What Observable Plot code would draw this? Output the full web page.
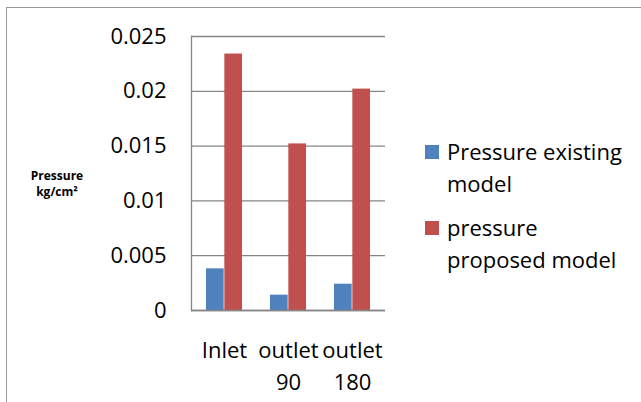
<!DOCTYPE html>
<html>
<head>
<meta charset="utf-8">
<script src="https://cdn.jsdelivr.net/npm/d3@7"></script>
<script src="https://cdn.jsdelivr.net/npm/@observablehq/plot@0.6"></script>
<style>
  html, body { margin: 0; padding: 0; background: #fff; overflow: hidden; }
  #wrap { position: relative; width: 641px; height: 402px; overflow: hidden; font-family: "Open Sans", sans-serif; color: #000; }
  #border { position: absolute; left: 6px; top: 7px; width: 700px; height: 450px; border: 1px solid #999; box-sizing: border-box; }
  #chart { position: absolute; left: 0; top: 0; }
  #ylabel { position: absolute; left: 7px; top: 168px; width: 100px; text-align: center; font-size: 12px; line-height: 16px; font-weight: bold; }
  #legend { position: absolute; left: 425px; top: 135px; font-size: 22px; line-height: 32px; }
  .item { position: relative; padding-left: 22px; margin-bottom: 12px; }
  .sw { position: absolute; left: 0; top: 10px; width: 14px; height: 14px; }
</style>
</head>
<body>
<div id="wrap">
  <div id="border"></div>
  <div id="chart"></div>
  <div id="ylabel">Pressure<br>kg/cm²</div>
  <div id="legend"></div>
</div>
<script>
const categories = ["Inlet", "outlet 90", "outlet 180"];
const categoryLabels = ["Inlet", "outlet\n90", "outlet\n180"];
const existing = [0.0038, 0.0014, 0.0024];
const proposed = [0.0234, 0.0152, 0.0202];
const seriesNames = ["Pressure existing model", "pressure proposed model"];
const legendLabels = ["Pressure existing<br>model", "pressure<br>proposed model"];
const seriesColors = ["#4F81BD", "#C0504D"];
const yTicks = [0, 0.005, 0.01, 0.015, 0.02, 0.025];
const yTickLabels = ["0", "0.005", "0.01", "0.015", "0.02", "0.025"];

const dataExisting = categories.map((c, i) => ({cat: c, series: seriesNames[0], value: existing[i]}));
const dataProposed = categories.map((c, i) => ({cat: c, series: seriesNames[1], value: proposed[i]}));

const W = 641, H = 402, mL = 191, mR = 256, mT = 36, mB = 92;
const band = (W - mL - mR) / categories.length;
const outer = band * 0.216;
const half = band / 2;

const plot = Plot.plot({
  width: W, height: H,
  marginLeft: mL, marginRight: mR, marginTop: mT, marginBottom: mB,
  style: {fontFamily: "Open Sans, sans-serif", fontSize: "22px", color: "#000", background: "transparent"},
  x: {domain: categories, padding: 0, label: null},
  y: {domain: [0, 0.025], label: null},
  color: {domain: seriesNames, range: seriesColors},
  marks: [
    Plot.gridY(yTicks, {stroke: "#868686", strokeOpacity: 1, strokeWidth: 1.3}),
    Plot.barY(dataExisting, {x: "cat", y: "value", fill: "series", insetLeft: outer, insetRight: half}),
    Plot.barY(dataProposed, {x: "cat", y: "value", fill: "series", insetLeft: half, insetRight: outer}),
    Plot.ruleY([0], {stroke: "#868686", strokeWidth: 1.3}),
    Plot.frame({anchor: "left", stroke: "#868686", strokeWidth: 1.3}),
    Plot.axisY(yTicks, {tickSize: 0, tickPadding: 25, fontSize: 22, tickFormat: (d) => yTickLabels[yTicks.indexOf(d)], label: null}),
    Plot.axisX({tickSize: 0, tickPadding: 25, fontSize: 22, lineHeight: 1.45, tickFormat: (d) => categoryLabels[categories.indexOf(d)], label: null})
  ]
});
document.getElementById("chart").appendChild(plot);

const legend = document.getElementById("legend");
seriesNames.forEach((s, i) => {
  const div = document.createElement("div");
  div.className = "item";
  div.innerHTML = `<span class="sw" style="background:${seriesColors[i]}"></span>${legendLabels[i]}`;
  legend.appendChild(div);
});
</script>
</body>
</html>
